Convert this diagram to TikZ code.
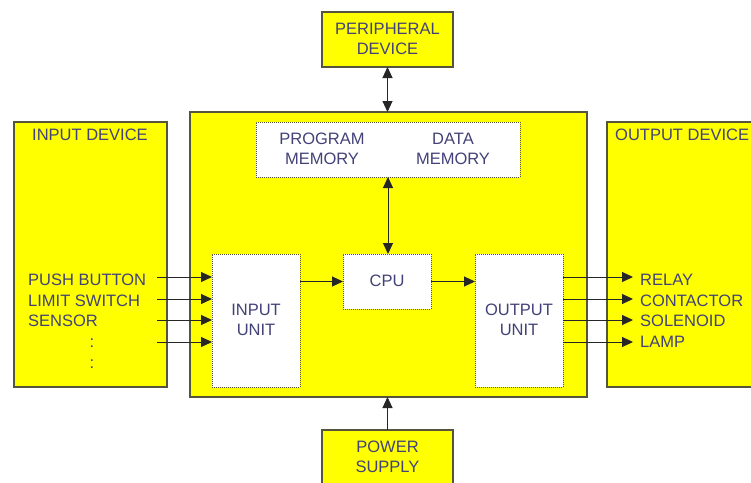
\documentclass[tikz,border=0pt]{standalone}
\usepackage{fontspec}
\setmainfont{Liberation Sans}
\usetikzlibrary{arrows.meta}
\definecolor{plcyellow}{RGB}{255,255,0}
\definecolor{plcborder}{RGB}{85,85,60}
\definecolor{plctext}{RGB}{66,66,120}
\tikzset{
  ybox/.style={draw=plcborder, line width=1.1pt, fill=plcyellow, inner sep=0pt, outer sep=0pt},
  wbox/.style={draw=plcborder, line width=1pt, densely dotted, fill=white, inner sep=0pt, outer sep=0pt},
  lbl/.style={text=plctext, font=\fontsize{16.5}{20}\selectfont, inner sep=0pt, align=center},
  conn/.style={draw=black!85, line width=1pt, -{Triangle[length=11pt,width=10pt]}},
  bconn/.style={draw=black!85, line width=1pt, {Triangle[length=11pt,width=10pt]}-{Triangle[length=11pt,width=10pt]}}
}
\begin{document}
\begin{tikzpicture}[x=1pt,y=-1pt]
\clip (0,0) rectangle (751,482);
\fill[white] (0,0) rectangle (751,482);
% outer boxes
\node[ybox, minimum width=153pt, minimum height=265pt] (indev) at (90.5,254.5) {};
\node[ybox, minimum width=397pt, minimum height=285pt] (plc) at (388.5,254.5) {};
\node[ybox, minimum width=153pt, minimum height=265pt] (outdev) at (683.5,254.5) {};
\node[ybox, minimum width=131pt, minimum height=55pt] (peri) at (387.5,39.5) {};
\node[ybox, minimum width=131pt, minimum height=56pt] (power) at (387.5,458) {};
% inner boxes
\node[wbox, minimum width=264pt, minimum height=55pt] (mem) at (388,149.5) {};
\node[wbox, minimum width=88pt, minimum height=133pt] (iu) at (256,320.5) {};
\node[wbox, minimum width=88pt, minimum height=55pt] (cpu) at (387,281.5) {};
\node[wbox, minimum width=88pt, minimum height=133pt] (ou) at (519,320.5) {};
% texts
\node[lbl] (tindev) at (90,135) {INPUT DEVICE};
\node[lbl, anchor=west] (toutdev) at (615,135) {OUTPUT DEVICE};
\node[lbl] (tperi) at (387.5,38.5) {PERIPHERAL\\DEVICE};
\node[lbl] (tpower) at (387.5,457) {POWER\\SUPPLY};
\node[lbl] (tprog) at (322,149) {PROGRAM\\MEMORY};
\node[lbl] (tdata) at (453,149) {DATA\\MEMORY};
\node[lbl] (tcpu) at (387,281) {CPU};
\node[lbl] (tiu) at (256,320) {INPUT\\UNIT};
\node[lbl] (tou) at (519,320) {OUTPUT\\UNIT};
\node[lbl, anchor=west] (i1) at (28,280) {PUSH BUTTON};
\node[lbl, anchor=west] (i2) at (28,300.5) {LIMIT SWITCH};
\node[lbl, anchor=west] (i3) at (28,321) {SENSOR};
\node[lbl, anchor=base] (idots1) at (92,347) {:};
\node[lbl, anchor=base] (idots2) at (92,368) {:};
\node[lbl, anchor=west] (o1) at (640,280) {RELAY};
\node[lbl, anchor=west] (o2) at (640,300.5) {CONTACTOR};
\node[lbl, anchor=west] (o3) at (640,321) {SOLENOID};
\node[lbl, anchor=west] (o4) at (640,342) {LAMP};
% connector free ends
\coordinate (is1) at (157,277);
\coordinate (is2) at (157,299);
\coordinate (is3) at (157,320);
\coordinate (is4) at (157,342);
\coordinate (oe1) at (633,277);
\coordinate (oe2) at (633,299);
\coordinate (oe3) at (633,320);
\coordinate (oe4) at (633,342);
% connectors
\foreach \k in {1,2,3,4} {
  \draw[conn] (is\k) -- (is\k -| iu.west);
  \draw[conn] (oe\k -| ou.east) -- (oe\k);
}
\draw[conn] (iu.east |- cpu) -- (cpu.west);
\draw[conn] (cpu.east) -- (ou.west |- cpu);
\draw[bconn] (mem.south) -- (mem.south |- cpu.north);
\draw[bconn] (peri.south) -- (peri.south |- plc.north);
\draw[conn] (power.north) -- (power.north |- plc.south);
\end{tikzpicture}
\end{document}
